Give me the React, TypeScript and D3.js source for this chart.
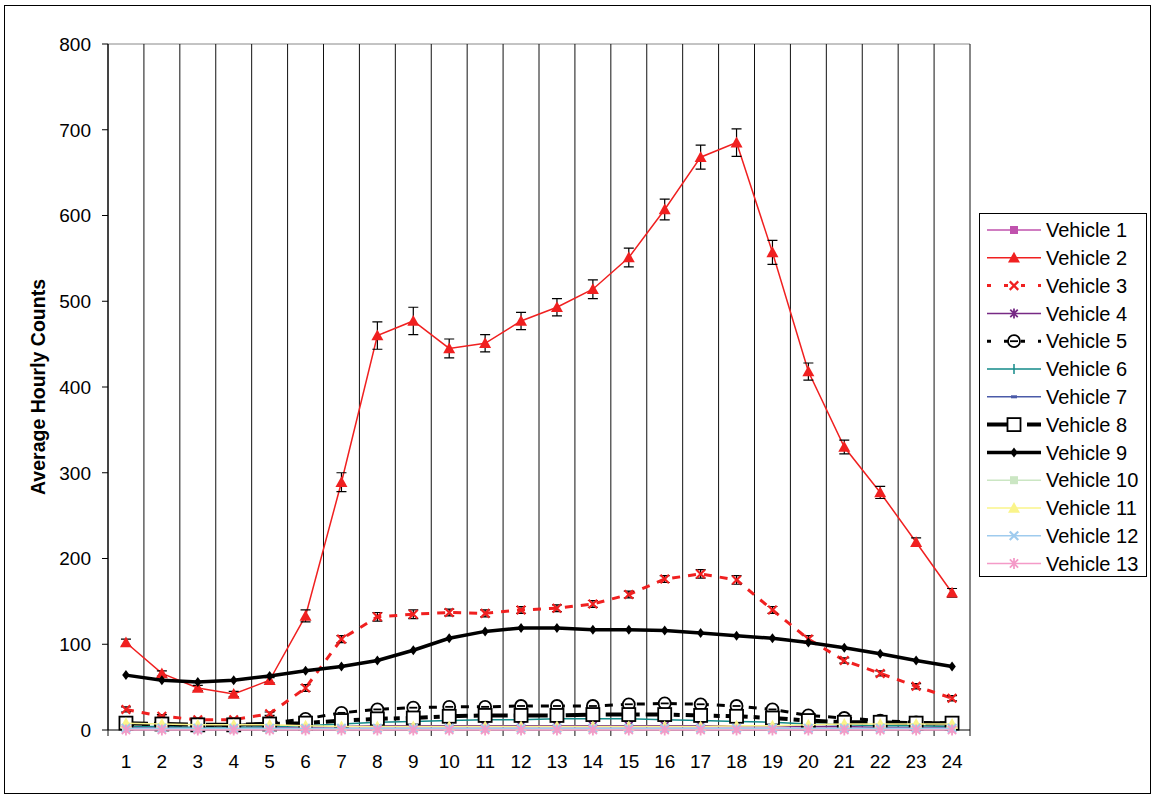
import React, { useRef, useEffect } from 'react';
import * as d3 from 'd3';

const hours = d3.range(1, 25);
const yTicks = [0, 100, 200, 300, 400, 500, 600, 700, 800];

const vehicle1 = [2, 2, 1, 1, 2, 2, 2, 2, 2, 2, 2, 2, 2, 2, 2, 2, 2, 2, 2, 2, 2, 2, 2, 2];
const vehicle2 = [102, 66, 49, 42, 58, 133, 289, 460, 477, 445, 451, 477, 493, 514, 551, 607, 668, 685, 557, 418, 330, 277, 219, 160];
const vehicle2Err = [4, 3, 3, 3, 3, 7, 11, 16, 16, 11, 10, 10, 10, 11, 11, 12, 14, 16, 14, 10, 8, 7, 5, 5];
const vehicle3 = [24, 16, 12, 12, 19, 49, 106, 132, 135, 137, 136, 140, 142, 147, 158, 176, 182, 175, 140, 106, 81, 66, 51, 37];
const vehicle3Err = [3, 2, 2, 2, 2, 4, 4, 5, 5, 4, 4, 4, 4, 4, 4, 4, 5, 5, 4, 4, 3, 3, 3, 3];
const vehicle4 = [3, 3, 2, 2, 3, 3, 4, 5, 5, 5, 5, 5, 5, 5, 5, 5, 5, 5, 5, 4, 4, 3, 3, 3];
const vehicle5 = [6, 6, 5, 5, 8, 13, 20, 24, 26, 27, 27, 28, 28, 28, 30, 31, 30, 28, 24, 17, 14, 11, 9, 8];
const vehicle6 = [4, 4, 3, 3, 4, 5, 7, 9, 10, 11, 12, 12, 13, 13, 13, 12, 11, 10, 9, 7, 6, 5, 5, 4];
const vehicle7 = [1, 1, 1, 1, 1, 1, 1, 1, 1, 1, 1, 1, 1, 1, 1, 1, 1, 1, 1, 1, 1, 1, 1, 1];
const vehicle8 = [8, 7, 6, 6, 7, 8, 11, 13, 14, 16, 17, 17, 17, 18, 18, 18, 17, 16, 14, 11, 9, 9, 8, 8];
const vehicle9 = [64, 58, 56, 58, 63, 69, 74, 81, 93, 107, 115, 119, 119, 117, 117, 116, 113, 110, 107, 102, 96, 89, 81, 74];
const vehicle10 = [1, 1, 1, 1, 1, 1, 1, 1, 1, 1, 1, 1, 1, 1, 1, 1, 1, 1, 1, 1, 1, 1, 1, 1];
const vehicle11 = [8, 7, 6, 6, 6, 5, 4, 4, 4, 4, 4, 4, 4, 4, 4, 4, 4, 5, 5, 6, 7, 7, 7, 7];
const vehicle12 = [2, 2, 2, 2, 2, 2, 2, 2, 2, 2, 2, 2, 2, 2, 2, 2, 2, 2, 2, 2, 2, 2, 2, 2];
const vehicle13 = [0, 0, 0, 0, 0, 0, 0, 0, 0, 0, 0, 0, 0, 0, 0, 0, 0, 0, 0, 0, 0, 0, 0, 0];

type Marker = 'square' | 'triangle' | 'x' | 'asterisk' | 'circle' | 'plus' | 'dash' | 'diamond';

interface Series {
  name: string;
  values: number[];
  color: string;
  width: number;
  dash?: string;
  legendDash?: string;
  marker: Marker;
  size: number;
  hollow?: boolean;
  errors?: number[];
}

const series: Series[] = [
  { name: 'Vehicle 1', values: vehicle1, color: '#c052ad', width: 1.5, marker: 'square', size: 8 },
  { name: 'Vehicle 2', values: vehicle2, color: '#f02020', width: 1.5, marker: 'triangle', size: 12, errors: vehicle2Err },
  { name: 'Vehicle 3', values: vehicle3, color: '#f02020', width: 3, dash: '8,8', legendDash: '4,13', marker: 'x', size: 10, errors: vehicle3Err },
  { name: 'Vehicle 4', values: vehicle4, color: '#772a85', width: 1.5, marker: 'asterisk', size: 10 },
  { name: 'Vehicle 5', values: vehicle5, color: '#000000', width: 3, dash: '8,8', legendDash: '4,13', marker: 'circle', size: 12, hollow: true },
  { name: 'Vehicle 6', values: vehicle6, color: '#138a88', width: 1.5, marker: 'plus', size: 10 },
  { name: 'Vehicle 7', values: vehicle7, color: '#4a5aa8', width: 1.5, marker: 'dash', size: 6 },
  { name: 'Vehicle 8', values: vehicle8, color: '#000000', width: 4, dash: '22,6,6,6', legendDash: '22,6,6,6', marker: 'square', size: 13, hollow: true },
  { name: 'Vehicle 9', values: vehicle9, color: '#000000', width: 3.5, marker: 'diamond', size: 10 },
  { name: 'Vehicle 10', values: vehicle10, color: '#cbe6c3', width: 1.5, marker: 'square', size: 8 },
  { name: 'Vehicle 11', values: vehicle11, color: '#faf48a', width: 1.5, marker: 'triangle', size: 12 },
  { name: 'Vehicle 12', values: vehicle12, color: '#9fcbee', width: 1.5, marker: 'x', size: 10 },
  { name: 'Vehicle 13', values: vehicle13, color: '#f49ac8', width: 1.5, marker: 'asterisk', size: 11 },
];

const W = 1156;
const H = 796;
const margin = { left: 108, right: 186, top: 44, bottom: 66 };

function drawMarker(g: d3.Selection<SVGGElement, unknown, null, undefined>, s: Series, cx: number, cy: number) {
  const r = s.size / 2;
  if (s.marker === 'square') {
    g.append('rect').attr('x', cx - r).attr('y', cy - r).attr('width', s.size).attr('height', s.size)
      .attr('fill', s.hollow ? '#fff' : s.color).attr('stroke', s.hollow ? s.color : 'none').attr('stroke-width', 1.8);
  } else if (s.marker === 'triangle') {
    g.append('path').attr('d', `M${cx},${cy - r}L${cx + r},${cy + r * 0.8}L${cx - r},${cy + r * 0.8}Z`).attr('fill', s.color);
  } else if (s.marker === 'diamond') {
    g.append('path').attr('d', `M${cx},${cy - r}L${cx + r * 0.75},${cy}L${cx},${cy + r}L${cx - r * 0.75},${cy}Z`).attr('fill', s.color);
  } else if (s.marker === 'circle') {
    g.append('circle').attr('cx', cx).attr('cy', cy).attr('r', r).attr('fill', '#fff').attr('stroke', s.color).attr('stroke-width', 1.8);
    g.append('line').attr('x1', cx - r + 2).attr('x2', cx + r - 2).attr('y1', cy).attr('y2', cy).attr('stroke', s.color).attr('stroke-width', 1.8);
  } else if (s.marker === 'x') {
    const k = r * 0.85;
    g.append('path').attr('d', `M${cx - k},${cy - k}L${cx + k},${cy + k}M${cx - k},${cy + k}L${cx + k},${cy - k}`)
      .attr('stroke', s.color).attr('stroke-width', 2.2).attr('fill', 'none');
  } else if (s.marker === 'plus') {
    g.append('path').attr('d', `M${cx},${cy - r}V${cy + r}`).attr('stroke', s.color).attr('stroke-width', 1.5);
  } else if (s.marker === 'asterisk') {
    const k = r * 0.75;
    g.append('path').attr('d', `M${cx - k},${cy - k}L${cx + k},${cy + k}M${cx - k},${cy + k}L${cx + k},${cy - k}M${cx},${cy - r}V${cy + r}`)
      .attr('stroke', s.color).attr('stroke-width', 1.8).attr('fill', 'none');
  } else if (s.marker === 'dash') {
    g.append('rect').attr('x', cx - r).attr('y', cy - 1.5).attr('width', s.size).attr('height', 3).attr('fill', s.color);
  }
}

const App: React.FC = () => {
  const svgRef = useRef<SVGSVGElement>(null);

  useEffect(() => {
    if (!svgRef.current) return;
    const svg = d3.select(svgRef.current);
    svg.selectAll('*').remove();

    const x = d3.scaleBand<number>().domain(hours).range([margin.left, W - margin.right]).padding(0);
    const y = d3.scaleLinear().domain([0, 800]).range([H - margin.bottom, margin.top]);
    const cx = (h: number) => (x(h) as number) + x.bandwidth() / 2;
    const font = 'Arial, "Liberation Sans", sans-serif';

    svg.append('rect').attr('x', 4.5).attr('y', 5.5).attr('width', W - 10).attr('height', H - 8)
      .attr('fill', '#fff').attr('stroke', '#000').attr('stroke-width', 1);

    // top of plot
    svg.append('line').attr('x1', margin.left).attr('x2', W - margin.right)
      .attr('y1', y(800)).attr('y2', y(800)).attr('stroke', '#888');

    // vertical gridlines at category edges
    const edges = hours.map(h => x(h) as number).concat([W - margin.right]);
    svg.append('g').selectAll('line').data(edges).join('line')
      .attr('x1', d => d).attr('x2', d => d)
      .attr('y1', y(800)).attr('y2', y(0) + 6)
      .attr('stroke', '#111').attr('stroke-width', 1);

    // axes
    svg.append('line').attr('x1', margin.left).attr('x2', margin.left).attr('y1', y(800)).attr('y2', y(0)).attr('stroke', '#000');
    svg.append('line').attr('x1', margin.left).attr('x2', W - margin.right).attr('y1', y(0)).attr('y2', y(0)).attr('stroke', '#000');
    const yt = svg.append('g');
    yTicks.forEach(t => {
      yt.append('line').attr('x1', margin.left - 6).attr('x2', margin.left).attr('y1', y(t)).attr('y2', y(t)).attr('stroke', '#000');
      yt.append('text').attr('x', margin.left - 17).attr('y', y(t)).attr('dy', '0.36em')
        .attr('text-anchor', 'end').attr('font-family', font).attr('font-size', 19).text(t);
    });

    svg.append('g').selectAll('text').data(hours).join('text')
      .attr('x', d => cx(d)).attr('y', y(0) + 38).attr('text-anchor', 'middle')
      .attr('font-family', font).attr('font-size', 19).text(d => d);

    svg.append('text')
      .attr('transform', `translate(45,${(y(0) + y(800)) / 2}) rotate(-90)`)
      .attr('text-anchor', 'middle').attr('font-family', font).attr('font-size', 19.5).attr('font-weight', 'bold')
      .text('Average Hourly Counts');

    const line = d3.line<number>().x((_, i) => cx(hours[i])).y(d => y(d));

    series.forEach(s => {
      const g = svg.append('g');
      g.append('path').attr('d', line(s.values)).attr('fill', 'none')
        .attr('stroke', s.color).attr('stroke-width', s.width)
        .attr('stroke-dasharray', s.dash ?? null);
      if (s.errors) {
        s.values.forEach((v, i) => {
          const e = s.errors![i];
          const px = cx(hours[i]);
          g.append('path')
            .attr('d', `M${px},${y(v + e)}V${y(v - e)}M${px - 5},${y(v + e)}H${px + 5}M${px - 5},${y(v - e)}H${px + 5}`)
            .attr('stroke', '#000').attr('stroke-width', 1.2).attr('fill', 'none');
        });
      }
      s.values.forEach((v, i) => drawMarker(g, s, cx(hours[i]), y(v)));
    });

    // legend
    const lg = svg.append('g');
    const lx = 979, ly = 213, lw = 167, lh = 363;
    lg.append('rect').attr('x', lx + 0.5).attr('y', ly + 0.5).attr('width', lw).attr('height', lh)
      .attr('fill', '#fff').attr('stroke', '#000');
    series.forEach((s, i) => {
      const ry = ly + 17 + i * 27.8;
      const row = lg.append('g');
      row.append('line').attr('x1', 987).attr('x2', 1041).attr('y1', ry).attr('y2', ry)
        .attr('stroke', s.color).attr('stroke-width', s.width)
        .attr('stroke-dasharray', s.legendDash ?? null);
      drawMarker(row, s, 1014, ry);
      row.append('text').attr('x', 1046).attr('y', ry).attr('dy', '0.36em')
        .attr('font-family', font).attr('font-size', 20).text(s.name);
    });
  }, []);

  return (
    <svg ref={svgRef} width={W} height={H} style={{ position: 'absolute', left: 0, top: 0 }}></svg>
  );
};

export default App;
